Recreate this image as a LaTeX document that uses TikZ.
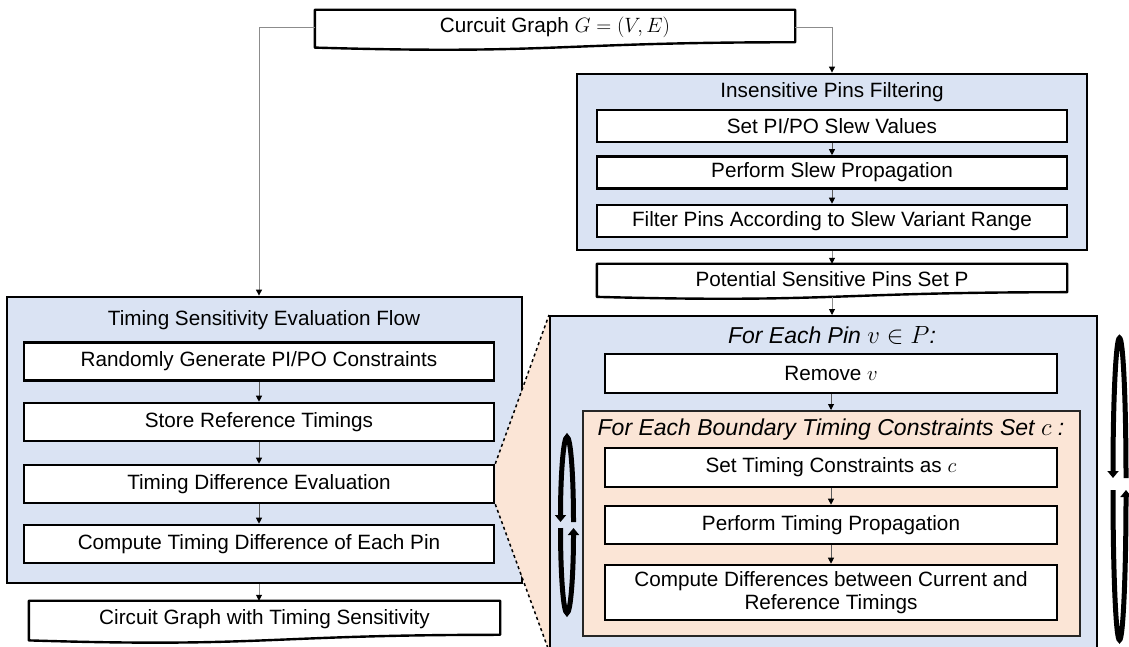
\documentclass[tikz,border=0pt]{standalone}
\usepackage{fontspec}
\setmainfont{Liberation Sans}
\usetikzlibrary{arrows.meta,calc}

\definecolor{panelblue}{HTML}{DAE3F3}
\definecolor{panelorange}{HTML}{FBE5D6}
\definecolor{linkgray}{HTML}{8C8C8C}
\definecolor{stepgray}{HTML}{5A5A5A}

\newcommand\boxfont{\fontsize{20.7}{23.5}\selectfont}
\newcommand\loopfont{\fontsize{23}{27}\selectfont\itshape}

% document-shaped outline (wavy bottom edge) around a text node
\newcommand\docoutline[1]{%
  \draw[docline] (#1.north west) -- (#1.north east)
    -- ($(#1.north east)!0.9326!(#1.south east)$)
    .. controls ($(#1.north)!0.9326!(#1.south)$) and ($(#1.north)!1.287!(#1.south)$)
    .. ($(#1.north west)!1.086!(#1.south west)$) -- cycle;}

\pgfdeclarelayer{panels}
\pgfdeclarelayer{wedge}
\pgfsetlayers{panels,wedge,main}

\begin{document}
\begin{tikzpicture}[x=1pt,y=-1pt,
  stepbox/.style={draw=black,line width=2.6pt,fill=white,inner sep=0pt,font=\boxfont,align=center},
  panel/.style={draw=black,line width=2.8pt,fill=panelblue,inner sep=0pt},
  innerpanel/.style={draw=black!85,line width=2pt,fill=panelorange,inner sep=0pt},
  doctext/.style={inner sep=0pt,font=\boxfont},
  docline/.style={draw=black,line width=2.4pt,line join=round},
  title/.style={font=\boxfont,inner sep=0pt},
  looptitle/.style={font=\loopfont,inner sep=0pt},
  link/.style={draw=linkgray,line width=1pt,-{Triangle[length=6pt,width=6pt,color=black]}},
  flow/.style={draw=stepgray,line width=1pt,-{Triangle[length=6pt,width=6pt,color=black]}},
  looparrow/.style={line width=5pt,-{Triangle[length=7pt,width=11pt]}},
  zoomedge/.style={draw=black,line width=1.5pt,dashed}
]
\useasboundingbox (0,0) rectangle (1129,647);
\clip (0,0) rectangle (1129,647);

% input graph
\node[doctext,minimum width=480pt,minimum height=34.4pt] (graph) at (555,27.2) {Curcuit Graph $G=(V,E)$};
\docoutline{graph}

% insensitive pin filtering
\node[panel,minimum width=510pt,minimum height=176pt] (filter) at (832,162) {};
\node[title] (filtertitle) at (832,92) {Insensitive Pins Filtering};
\node[stepbox,minimum width=470pt,minimum height=32pt] (slewset) at (832,126) {Set PI/PO Slew Values};
\node[stepbox,minimum width=470pt,minimum height=32pt] (slewprop) at (832,172.5) {Perform Slew Propagation};
\node[stepbox,minimum width=470pt,minimum height=32pt] (slewfilter) at (832,221) {Filter Pins According to Slew Variant Range};
\draw[flow] (slewset) -- (slewprop);
\draw[flow] (slewprop) -- (slewfilter);

% candidate pins
\node[doctext,minimum width=470pt,minimum height=30.1pt] (pins) at (832,279) {Potential Sensitive Pins Set P};
\docoutline{pins}
\coordinate (pinsfoot) at ($(pins.north)!1.085!(pins.south)$);
\draw[link] (filter.south) -- (pins.north);

% timing sensitivity evaluation flow
\begin{pgfonlayer}{panels}
\node[panel,minimum width=515pt,minimum height=286pt] (tsf) at (264.5,440) {};
\end{pgfonlayer}
\node[title] (tsftitle) at (264,320) {Timing Sensitivity Evaluation Flow};
\node[stepbox,minimum width=470pt,minimum height=38pt] (gen) at (259,361.5) {Randomly Generate PI/PO Constraints};
\node[stepbox,minimum width=470pt,minimum height=38pt] (store) at (259,422) {Store Reference Timings};
\node[stepbox,minimum width=470pt,minimum height=38pt] (diff) at (259,484) {Timing Difference Evaluation};
\node[stepbox,minimum width=470pt,minimum height=38pt] (each) at (259,544) {Compute Timing Difference of Each Pin};
\draw[flow] (gen) -- (store);
\draw[flow] (store) -- (diff);
\draw[flow] (diff) -- (each);

% output graph
\node[doctext,minimum width=471pt,minimum height=36.1pt] (report) at (264.5,619) {Circuit Graph with Timing Sensitivity};
\docoutline{report}
\draw[link] (each.south |- tsf.south) -- (each.south |- report.north);

% connectors from the input graph
\draw[link] (graph.west) -- (graph.west -| gen.north) -- (gen.north |- tsf.north);
\draw[link] (graph.east) -- (graph.east -| filter.north) -- (filter.north);

% detail of the difference evaluation
\node[panel,line width=2pt,minimum width=547pt,minimum height=334pt] (detail) at (823.5,483) {};
\node[looptitle] (pinloop) at (832,335) {For Each Pin $v\in P$:};
\node[stepbox,minimum width=452pt,minimum height=39pt] (remove) at (831,373.5) {Remove $v$};
\node[innerpanel,minimum width=497pt,minimum height=225pt] (cset) at (831.5,523.5) {};
\node[looptitle] (csettitle) at (831,430) {For Each Boundary Timing Constraints Set $c$ :};
\node[stepbox,minimum width=452pt,minimum height=39pt] (setc) at (831,467.5) {Set Timing Constraints as $c$};
\node[stepbox,minimum width=452pt,minimum height=38pt] (tprop) at (831,525) {Perform Timing Propagation};
\node[stepbox,minimum width=452pt,minimum height=55pt] (cmp) at (831,592.5) {Compute Differences between Current and\\Reference Timings};
\draw[link] (pinsfoot) -- (pinsfoot |- detail.north);
\draw[flow] (remove) -- (remove.south |- cset.north);
\draw[flow] (setc) -- (tprop);
\draw[flow] (tprop) -- (cmp);

% zoom wedge
\begin{pgfonlayer}{wedge}
\fill[panelorange] (diff.north east) -- (detail.north west) -- (detail.south west) -- (diff.south east) -- cycle;
\end{pgfonlayer}
\draw[zoomedge] (diff.north east) -- (detail.north west);
\draw[zoomedge] (diff.south east) -- (detail.south west);

% loop markers
\draw[looparrow] (573.5,522) arc[start angle=0,end angle=-180,x radius=6.5,y radius=85];
\draw[looparrow] (560.5,528) arc[start angle=180,end angle=0,x radius=6.5,y radius=85];
\draw[looparrow] (1126,478) arc[start angle=0,end angle=-180,x radius=6.5,y radius=140];
\draw[looparrow] (1113,490) arc[start angle=180,end angle=0,x radius=6.5,y radius=150];
\end{tikzpicture}
\end{document}
